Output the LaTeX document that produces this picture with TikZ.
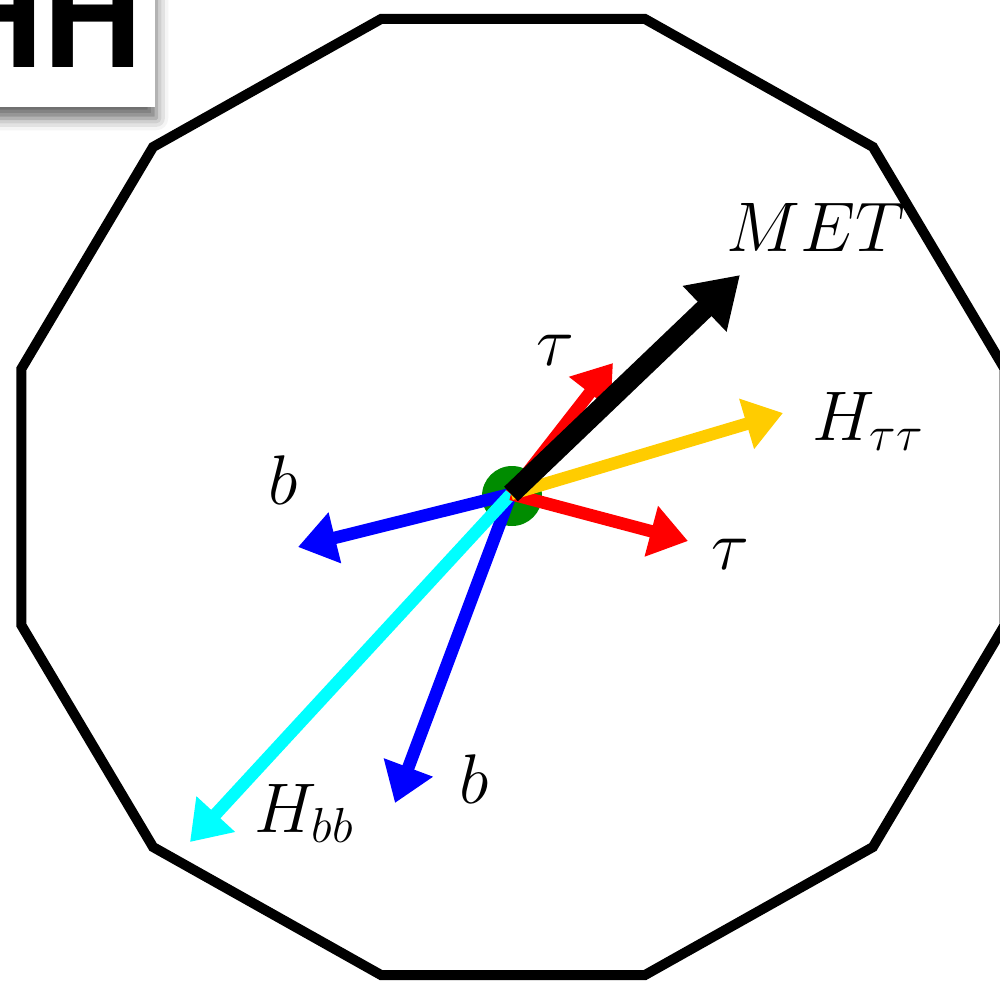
\RequirePackage{fix-cm}
\documentclass[tikz,border=0pt]{standalone}
\usepackage{fontspec}
\usepackage{tikz}
\usetikzlibrary{arrows.meta,shadows.blur}
\newfontfamily\hhfont{TeX Gyre Heros}
\definecolor{tauc}{HTML}{FF0000}
\definecolor{bjet}{HTML}{0000FF}
\definecolor{hbbc}{HTML}{00FFFF}
\definecolor{httc}{HTML}{FFCC00}
\definecolor{vtxc}{HTML}{008C00}

\begin{document}
\begin{tikzpicture}[
    vec/.style={line width=1.25mm,-{Triangle[length=3.8mm,width=5mm]}},
    lbl/.style={font=\fontsize{20}{24}\selectfont,anchor=base west,inner sep=0pt}]
  \useasboundingbox (-5.11,-4.90) rectangle (4.89,4.94);

  % detector outline
  \draw[line width=1mm,line join=miter,shift={(0.02,-0.03)}]
    (15:5.09cm and 4.95cm) \foreach \a in {45,75,...,345} { -- (\a:5.09cm and 4.95cm) } -- cycle;

  % tag in the corner
  \node[fill=white,minimum width=3cm,minimum height=2cm,anchor=south east,
        blur shadow={shadow xshift=0.1mm,shadow yshift=-1.1mm,shadow blur radius=1.2mm,shadow opacity=60}]
    (hhbox) at (-3.55,3.86) {};
  \node[font=\hhfont\bfseries\fontsize{39}{40}\selectfont,anchor=base east,inner sep=0pt]
    (hh) at (-3.68,4.26) {HH};

  % primary vertex
  \node[circle,fill=vtxc,minimum size=6mm,inner sep=0pt] (pv) at (0.01,-0.02) {};
  \coordinate (o) at (0,0);

  % end points of the vectors
  \coordinate (bl) at (-2.13,-0.53);
  \coordinate (bd) at (-1.16,-3.09);
  \coordinate (hbb) at (-3.21,-3.48);
  \coordinate (tu) at (1.02,1.31);
  \coordinate (tr) at (1.77,-0.47);
  \coordinate (htt) at (2.72,0.81);
  \coordinate (met) at (2.29,2.19);

  % b jets and H->bb
  \draw[vec,bjet] (o) -- (bl);
  \draw[vec,bjet] (o) -- (bd);
  \draw[vec,hbbc] (o) -- (hbb);

  % taus and H->tautau
  \draw[vec,tauc] (o) -- (tu);
  \draw[vec,tauc] (o) -- (tr);
  \draw[vec,httc] (o) -- (htt);

  % missing energy
  \draw[line width=2mm,-{Triangle[length=4.9mm,width=6mm]}] (o) -- (met);

  % labels
  \node[lbl] (lmet) at (2.15,2.43) {$MET$};
  \node[lbl] (ltu) at (0.25,1.29) {$\tau$};
  \node[lbl] (lhtt) at (3.01,0.54) {$H_{\tau\tau}$};
  \node[lbl] (ltr) at (2.00,-0.75) {$\tau$};
  \node[lbl] (lbl) at (-2.43,-0.10) {$b$};
  \node[lbl] (lbd) at (-0.52,-3.09) {$b$};
  \node[lbl] (lhbb) at (-2.57,-3.38) {$H_{bb}$};
\end{tikzpicture}
\end{document}
